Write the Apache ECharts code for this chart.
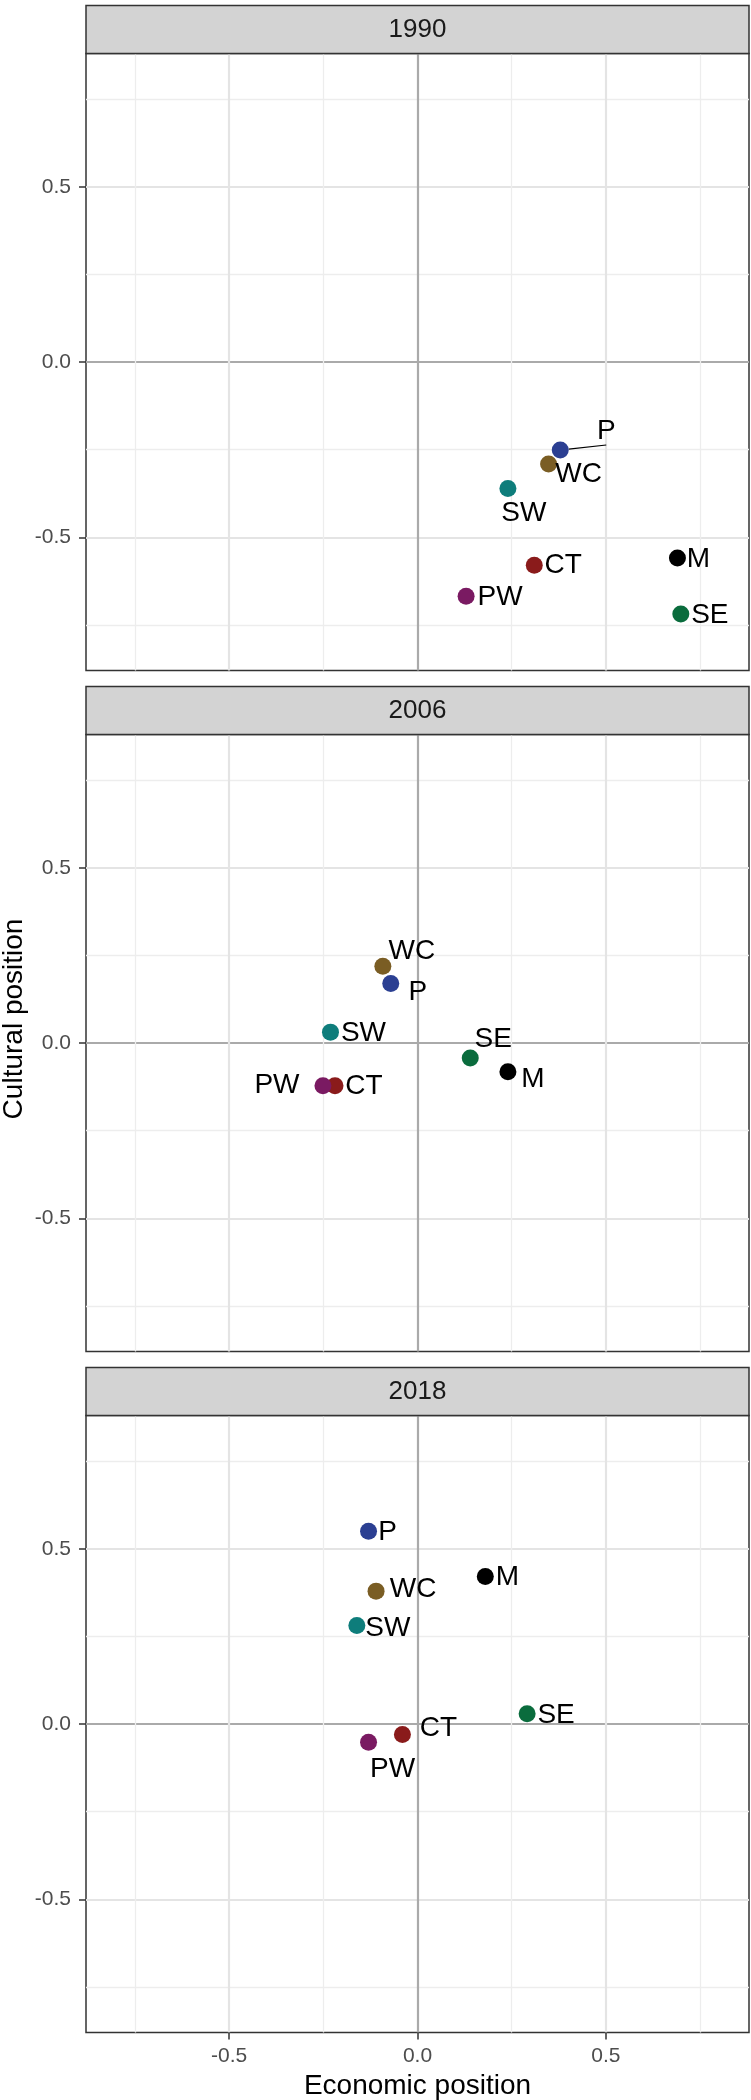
<!DOCTYPE html>
<html>
<head>
<meta charset="utf-8">
<script src="https://cdn.jsdelivr.net/npm/echarts@6/dist/echarts.min.js"></script>
<style>
html, body { margin: 0; padding: 0; background: #fff; }
#main { width: 751px; height: 2100px; }
</style>
</head>
<body>
<div id="main"></div>
<script>
const years = ['1990', '2006', '2018']
const parties = ['P', 'WC', 'SW', 'CT', 'PW', 'M', 'SE']
// economic (x) and cultural (y) position per year, same order as parties
const econ1990 = [0.379, 0.348, 0.240, 0.310, 0.129, 0.690, 0.699]
const cult1990 = [-0.251, -0.291, -0.361, -0.580, -0.668, -0.559, -0.719]
const econ2006 = [-0.071, -0.092, -0.231, -0.219, -0.251, 0.240, 0.140]
const cult2006 = [0.170, 0.219, 0.031, -0.122, -0.122, -0.082, -0.043]
const econ2018 = [-0.130, -0.110, -0.161, -0.040, -0.130, 0.180, 0.291]
const cult2018 = [0.550, 0.379, 0.281, -0.030, -0.052, 0.421, 0.029]
const majorTicks = [-0.5, 0, 0.5]
const minorTicks = [-0.75, -0.25, 0.25, 0.75]

const econ = [econ1990, econ2006, econ2018]
const cult = [cult1990, cult2006, cult2018]

const partyColors = ['#2b3f92', '#7a5d24', '#0e7d7b', '#8a1b1b', '#7a1a62', '#000000', '#0a6c3d']
// where each text label sits relative to its point (px), like ggrepel did it
const labelOffsets = {
  '1990': [[46, -19], [30, 10], [16, 25], [29, 0], [34, 1], [21, 1], [29, 1]],
  '2006': [[27, 9], [29, -15], [33, 1], [29, 1], [-46, 0], [25, 8], [23, -19]],
  '2018': [[19, 1], [37, -2], [31, 3], [36, -6], [24, 27], [22, 1], [29, 1]]
}

const FONT = '"Liberation Sans", Arial, Helvetica, sans-serif'
const gridTop = [53.5, 734.5, 1415.5]
const gridH = 617
const gridLeft = 86
const gridW = 663
const stripH = 48
const lim = 0.88

const chart = echarts.init(document.getElementById('main'), null, { renderer: 'canvas' })

const grids = gridTop.map(t => ({
  left: gridLeft, top: t, width: gridW, height: gridH,
  show: true, borderColor: '#333', borderWidth: 1.5, backgroundColor: '#fff'
}))

function axisPair(i, isY) {
  const bottomPanel = i === 2
  const showTicks = isY || bottomPanel
  const main = {
    type: 'value', gridIndex: i, min: -lim, max: lim,
    position: isY ? 'left' : 'bottom',
    axisLine: { show: false, onZero: false },
    axisTick: {
      show: showTicks, length: 7, customValues: majorTicks,
      lineStyle: { color: '#333', width: 1.5 }
    },
    axisLabel: {
      show: showTicks, customValues: majorTicks, margin: isY ? 15 : 13,
      fontSize: 21, fontFamily: FONT, color: '#4d4d4d',
      formatter: v => v.toFixed(1)
    },
    splitLine: {
      show: true, customValues: majorTicks,
      lineStyle: { color: ['#e4e4e4', '#aaaaaa', '#e4e4e4'], width: 2.2 }
    }
  }
  const minor = {
    type: 'value', gridIndex: i, min: -lim, max: lim,
    position: isY ? 'left' : 'bottom',
    axisLine: { show: false, onZero: false },
    axisTick: { show: false, customValues: minorTicks },
    axisLabel: { show: false, customValues: minorTicks },
    splitLine: { show: true, customValues: minorTicks, lineStyle: { color: '#ededed', width: 1.3 } }
  }
  return [main, minor]
}

const xAxes = [], yAxes = []
for (let i = 0; i < 3; i++) {
  xAxes.push(...axisPair(i, false))
  yAxes.push(...axisPair(i, true))
}

const series = years.map((yr, i) => ({
  type: 'scatter',
  xAxisIndex: 2 * i,
  yAxisIndex: 2 * i,
  symbolSize: 17,
  z: 5,
  itemStyle: { opacity: 1 },
  emphasis: { disabled: true },
  label: {
    show: true, position: 'inside', formatter: '{b}',
    fontSize: 28, fontFamily: FONT, color: '#000', textBorderWidth: 0
  },
  data: parties.map((p, j) => {
    const item = {
      name: p,
      value: [econ[i][j], cult[i][j]],
      itemStyle: { color: partyColors[j], opacity: 1 },
      label: { offset: labelOffsets[yr][j] }
    }
    if (yr === '1990' && p === 'P') {
      item.labelLine = { show: true, lineStyle: { color: '#000', width: 1.2, opacity: 1 } }
    }
    return item
  })
}))

const graphic = []
gridTop.forEach((t, i) => {
  graphic.push({
    type: 'rect', z: 10,
    shape: { x: gridLeft, y: t - stripH, width: gridW, height: stripH },
    style: { fill: '#d3d3d3', stroke: '#333', lineWidth: 1.5 }
  })
  graphic.push({
    type: 'text', z: 11, x: gridLeft + gridW / 2, y: t - stripH / 2,
    style: { text: years[i], fontSize: 26, fontFamily: FONT, fill: '#1a1a1a', align: 'center', verticalAlign: 'middle' }
  })
})
graphic.push({
  type: 'text', x: gridLeft + gridW / 2, y: 2086,
  style: { text: 'Economic position', fontSize: 28, fontFamily: FONT, fill: '#000', align: 'center', verticalAlign: 'middle' }
})
graphic.push({
  type: 'text', x: 14, y: 1019, rotation: Math.PI / 2,
  style: { text: 'Cultural position', fontSize: 28, fontFamily: FONT, fill: '#000', align: 'center', verticalAlign: 'middle' }
})

chart.setOption({
  animation: false,
  grid: grids,
  xAxis: xAxes,
  yAxis: yAxes,
  series: series,
  graphic: graphic
})
</script>
</body>
</html>
